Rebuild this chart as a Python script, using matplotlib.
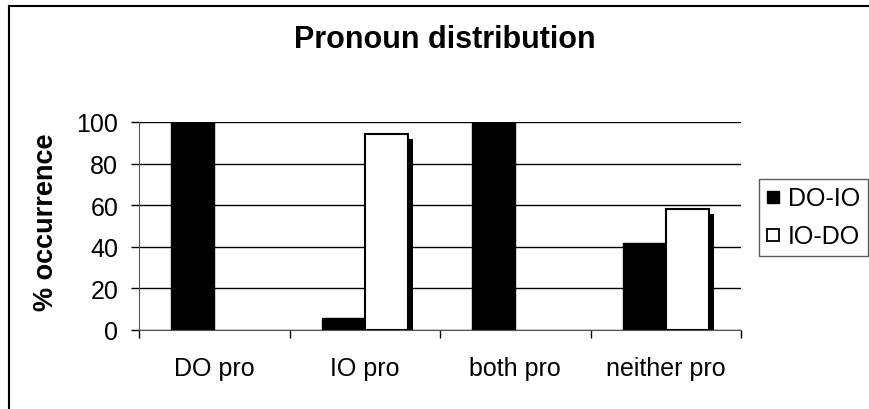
import matplotlib
matplotlib.use("Agg")
import matplotlib.pyplot as plt
from matplotlib.lines import Line2D
import numpy as np

plt.rcParams['font.family'] = ['Liberation Sans', 'DejaVu Sans']

categories = ["DO pro", "IO pro", "both pro", "neither pro"]
series_names = ["DO-IO", "IO-DO"]
do_io = [100, 6, 100, 42]
io_do = [0, 94, 0, 58]
yticks = [0, 20, 40, 60, 80, 100]
title = "Pronoun distribution"
ylabel = "% occurrence"

W, H = 869, 410
fig = plt.figure(figsize=(W / 100, H / 100), dpi=100)
fig.patch.set_facecolor("white")

# outer border (top and left visible)
fig.add_artist(Line2D([9 / W, 9 / W], [0, 1 - 7 / H], transform=fig.transFigure, color="black", lw=1.5))
fig.add_artist(Line2D([9 / W, 1], [1 - 7 / H, 1 - 7 / H], transform=fig.transFigure, color="black", lw=1.5))

left, right, top, bottom = 139, 741, 123, 331
ax = fig.add_axes([left / W, 1 - bottom / H, (right - left) / W, (bottom - top) / H])

x = np.arange(len(categories))
bw = 1 / 3.5
# shadow offsets (pixel-based converted to data units)
sx = 5 / (right - left) * len(categories)
sy = 5 / (bottom - top) * 100

io_do_arr = np.array(io_do, dtype=float)
ax.bar(x + bw / 2 + sx, np.clip(io_do_arr - sy, 0, None), bw, color="black", zorder=2)
ax.bar(x - bw / 2, do_io, bw, color="black", edgecolor="black", lw=1, zorder=3, label=series_names[0])
edges = ["black" if v > 0 else "none" for v in io_do]
ax.bar(x + bw / 2, io_do, bw, color="white", edgecolor=edges, lw=1.5, zorder=3, label=series_names[1])

ax.set_xlim(-0.5, len(categories) - 0.5)
ax.set_ylim(0, 100)
ax.set_yticks(yticks)
ax.yaxis.grid(True, color="black", lw=1)
ax.set_axisbelow(True)

ax.set_xticks(np.arange(-0.5, len(categories), 1.0))
ax.set_xticklabels([])
ax.set_xticks(x, minor=True)
ax.set_xticklabels(categories, minor=True, fontsize=18)
ax.tick_params(axis="x", which="major", direction="out", length=6, width=1, color="black")
ax.tick_params(axis="x", which="minor", length=0, pad=19)
ax.tick_params(axis="y", direction="out", length=6, width=1, labelsize=18, pad=9, color="black")

for s in ["top", "right"]:
    ax.spines[s].set_visible(False)
ax.spines["left"].set_color("#555555")
ax.spines["bottom"].set_color("#555555")

fig.text(445 / W, 1 - 40 / H, title, ha="center", va="center", fontsize=22, fontweight="bold")
fig.text(46 / W, 1 - 222 / H, ylabel, ha="center", va="center", rotation=90, fontsize=19.5, fontweight="bold")

handles = [
    Line2D([], [], marker="s", ls="none", markersize=9, markerfacecolor="black", markeredgecolor="black"),
    Line2D([], [], marker="s", ls="none", markersize=8.5, markerfacecolor="white", markeredgecolor="black", markeredgewidth=1.3),
]
leg = fig.legend(handles, series_names, loc="upper left", bbox_to_anchor=(759 / W, 1 - 180 / H),
                 fontsize=18, frameon=True, fancybox=False, edgecolor="#333333", handlelength=0.55,
                 handletextpad=0.3, borderpad=0.3, labelspacing=0.55, borderaxespad=0)
leg.get_frame().set_linewidth(1)

fig.savefig("out.png", dpi=100)
